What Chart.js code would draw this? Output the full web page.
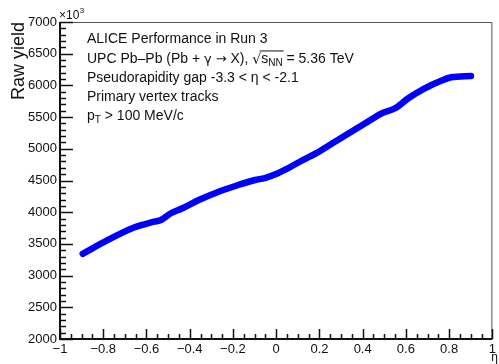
<!DOCTYPE html>
<html>
<head>
<meta charset="utf-8">
<script src="https://cdn.jsdelivr.net/npm/chart.js@4.4.1/dist/chart.umd.min.js"></script>
<style>
  html, body { margin: 0; padding: 0; background: #ffffff; }
  #wrap { width: 499px; height: 364px; position: relative; }
</style>
</head>
<body>
<div id="wrap"><canvas id="c" width="499" height="364"></canvas></div>
<script>
// Raw yield of primary vertex tracks versus pseudorapidity (values in units of 10^3)
const etaValues = [
  -0.895, -0.778, -0.655, -0.564, -0.533, -0.487, -0.434, -0.358, -0.266, -0.175,
  -0.098, -0.053, 0.008, 0.054, 0.123, 0.184, 0.260, 0.336, 0.412, 0.488,
  0.550, 0.611, 0.687, 0.763, 0.809, 0.901
];
const yieldValues = [
  3344, 3562, 3762, 3850, 3877, 3983, 4062, 4192, 4323, 4429,
  4508, 4539, 4614, 4692, 4823, 4929, 5087, 5245, 5402, 5560,
  5639, 5797, 5954, 6074, 6128, 6148
];

const xRange = [-1, 1];
const yRange = [2000, 7000];
const xMajorStep = 0.2;
const yMajorStep = 500;

const axisTitleY = 'Raw yield';
const axisTitleX = 'η';
const yScaleFactor = '×10';
const yScaleExponent = '3';

const FONT = '"Liberation Sans", Arial, Helvetica, sans-serif';
const SYMBOL_FONT = '"DejaVu Sans", sans-serif';
const INK = '#111111';

function fmtTick(v) {
  const r = Math.round(v * 10) / 10;
  if (r === 0) return '0';
  const s = String(Math.abs(r));
  return r < 0 ? '\u2212' + s : s;
}

// Text made of pieces: plain, subscript, symbol-font, or a radical with overlined argument
function drawRich(ctx, parts, x, y, size) {
  let cx = x;
  const fontFor = (q) => {
    const fs = q.sub ? Math.round(size * 0.7) : (q.sym ? size - 1 : size);
    return fs + 'px ' + (q.sym ? SYMBOL_FONT : FONT);
  };
  for (const p of parts) {
    if (p.sqrt) {
      ctx.font = size + 'px ' + SYMBOL_FONT;
      ctx.fillText('\u221A', cx, y + 1);
      const rw = ctx.measureText('\u221A').width;
      const startBar = cx + rw - 1.5;
      let argEnd = cx + rw;
      for (const q of p.sqrt) {
        ctx.font = fontFor(q);
        ctx.fillText(q.t, argEnd, q.sub ? y + 3 : y);
        argEnd += ctx.measureText(q.t).width;
      }
      ctx.save();
      ctx.strokeStyle = INK;
      ctx.lineWidth = 1;
      ctx.beginPath();
      ctx.moveTo(startBar, y - size * 0.86);
      ctx.lineTo(argEnd + 1, y - size * 0.86);
      ctx.stroke();
      ctx.restore();
      cx = argEnd;
      continue;
    }
    ctx.font = fontFor(p);
    ctx.fillText(p.t, cx, p.sub ? y + 3 : y);
    cx += ctx.measureText(p.t).width;
  }
}

const infoLines = [
  [{ t: 'ALICE Performance in Run 3' }],
  [{ t: 'UPC Pb\u2013Pb (Pb + ' }, { t: '\u03B3', sym: true }, { t: ' ' }, { t: '\u2192', sym: true }, { t: ' X), ' },
   { sqrt: [{ t: 's' }, { t: 'NN', sub: true }] }, { t: ' = 5.36 TeV' }],
  [{ t: 'Pseudorapidity gap -3.3 < \u03B7 < -2.1' }],
  [{ t: 'Primary vertex tracks' }],
  [{ t: 'p' }, { t: 'T', sub: true }, { t: ' > 100 MeV/c' }]
];

const framePlugin = {
  id: 'rootFrame',
  afterDraw(chart) {
    const ctx = chart.ctx;
    const a = chart.chartArea;
    const xs = chart.scales.x;
    const ys = chart.scales.y;
    ctx.save();

    // frame: top and right
    ctx.strokeStyle = '#555555';
    ctx.lineWidth = 1;
    ctx.beginPath();
    ctx.moveTo(a.left, a.top + 0.5);
    ctx.lineTo(a.right - 0.5, a.top + 0.5);
    ctx.lineTo(a.right - 0.5, a.bottom);
    ctx.stroke();

    // axes: left and bottom
    ctx.strokeStyle = INK;
    ctx.lineWidth = 2;
    ctx.beginPath();
    ctx.moveTo(a.left, a.top);
    ctx.lineTo(a.left, a.bottom);
    ctx.lineTo(a.right, a.bottom);
    ctx.stroke();

    // x ticks, pointing into the frame
    ctx.lineWidth = 1.5;
    ctx.beginPath();
    for (let i = 0; i <= 40; i++) {
      const v = xRange[0] + i * 0.05;
      const px = Math.round(xs.getPixelForValue(v)) + 0.5;
      const len = (i % 4 === 0) ? 10 : 5;
      ctx.moveTo(px, a.bottom);
      ctx.lineTo(px, a.bottom - len);
    }
    // y ticks
    for (let i = 0; i <= 50; i++) {
      const v = yRange[0] + i * 100;
      const py = Math.round(ys.getPixelForValue(v)) + 0.5;
      const len = (i % 5 === 0) ? 13 : 6;
      ctx.moveTo(a.left, py);
      ctx.lineTo(a.left + len, py);
    }
    ctx.stroke();

    ctx.fillStyle = INK;
    ctx.textBaseline = 'alphabetic';

    // y axis title
    ctx.save();
    ctx.translate(24, a.top);
    ctx.rotate(-Math.PI / 2);
    ctx.font = '18px ' + FONT;
    ctx.textAlign = 'right';
    ctx.fillText(axisTitleY, 0, 0);
    ctx.restore();

    // x axis title
    ctx.font = '12px ' + FONT;
    ctx.textAlign = 'right';
    ctx.fillText(axisTitleX, 498, 361);

    // y scale multiplier
    ctx.textAlign = 'left';
    ctx.font = '12px ' + FONT;
    ctx.fillText(yScaleFactor, 59, 19);
    const w = ctx.measureText(yScaleFactor).width;
    ctx.font = '8px ' + FONT;
    ctx.fillText(yScaleExponent, 59 + w + 0.5, 13);

    // information block
    const baselines = [43, 63, 82, 101, 120];
    infoLines.forEach((parts, i) => drawRich(ctx, parts, 87, baselines[i], 14));

    ctx.restore();
  }
};

const points = etaValues.map((x, i) => ({ x: x, y: yieldValues[i] }));

new Chart(document.getElementById('c').getContext('2d'), {
  type: 'scatter',
  data: {
    datasets: [{
      data: points,
      showLine: true,
      borderColor: '#0000ff',
      backgroundColor: '#0000ff',
      borderWidth: 6.5,
      pointRadius: 0,
      cubicInterpolationMode: 'monotone',
      borderCapStyle: 'round',
      borderJoinStyle: 'round',
      fill: false
    }]
  },
  options: {
    responsive: false,
    animation: false,
    devicePixelRatio: 1,
    layout: { padding: { top: 22, right: 2, left: 0, bottom: 0 } },
    plugins: { legend: { display: false }, tooltip: { enabled: false } },
    scales: {
      x: {
        type: 'linear',
        min: xRange[0],
        max: xRange[1],
        grid: { display: false, drawTicks: false },
        border: { display: false },
        ticks: {
          stepSize: xMajorStep,
          autoSkip: false,
          maxRotation: 0,
          padding: 3,
          color: INK,
          font: { family: FONT, size: 13 },
          callback: (v) => fmtTick(v)
        },
        afterFit(s) { s.height = 25; }
      },
      y: {
        type: 'linear',
        min: yRange[0],
        max: yRange[1],
        grid: { display: false, drawTicks: false },
        border: { display: false },
        ticks: {
          stepSize: yMajorStep,
          autoSkip: false,
          padding: 3,
          color: INK,
          font: { family: FONT, size: 13 },
          callback: (v) => String(v)
        },
        afterFit(s) { s.width = 60; }
      }
    }
  },
  plugins: [framePlugin]
});
</script>
</body>
</html>
